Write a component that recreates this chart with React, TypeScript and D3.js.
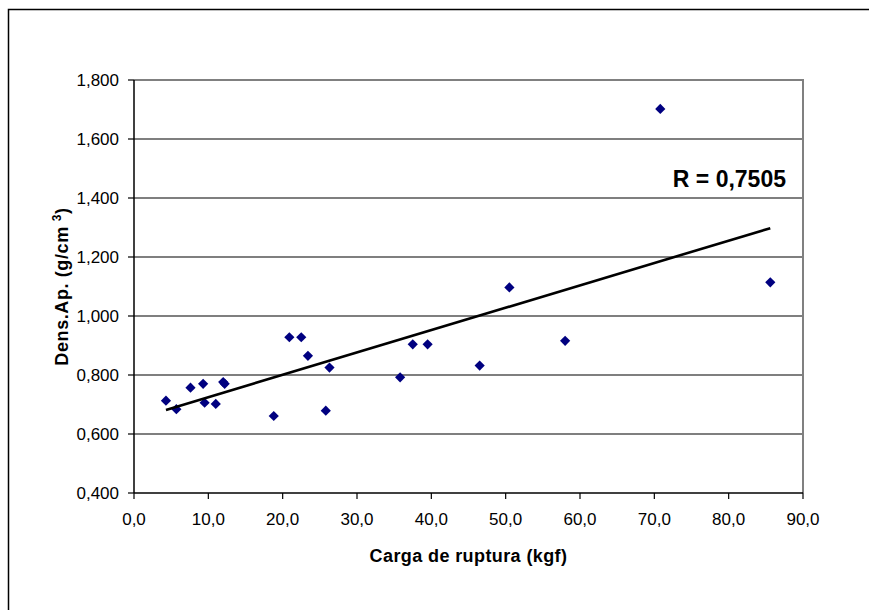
import React from "react";
import * as d3 from "d3";

// Carga de ruptura (kgf)
const cargaRuptura = [
  4.3, 5.7, 7.6, 9.3, 9.5, 11.0, 12.0, 12.2, 18.8, 20.9, 22.5, 23.4, 25.8, 26.3,
  35.8, 37.5, 39.5, 46.5, 50.5, 58.0, 70.8, 85.6,
];
// Dens.Ap. (g/cm3)
const densAp = [
  0.713, 0.684, 0.757, 0.77, 0.706, 0.702, 0.776, 0.77, 0.661, 0.928, 0.928, 0.865,
  0.679, 0.825, 0.792, 0.904, 0.904, 0.832, 1.097, 0.916, 1.702, 1.114,
];

const xTicks = [0, 10, 20, 30, 40, 50, 60, 70, 80, 90];
const yTicks = [0.4, 0.6, 0.8, 1.0, 1.2, 1.4, 1.6, 1.8];

// linear trend
const trendSlope = 0.00758;
const trendIntercept = 0.649;
const rLabel = "R = 0,7505";

const width = 869;
const height = 610;
const marginLeft = 134;
const marginRight = 66;
const marginTop = 80;
const marginBottom = 117;

const font = "'Liberation Sans', Arial, sans-serif";

const fmtX = (v: number) => v.toFixed(1).replace(".", ",");
const fmtY = (v: number) => v.toFixed(3).replace(".", ",");

export default function App() {
  const x = d3.scaleLinear([0, 90], [marginLeft, width - marginRight]);
  const y = d3.scaleLinear([0.4, 1.8], [height - marginBottom, marginTop]);

  const diamond = d3.symbol(d3.symbolSquare, 52)();
  const xMin = d3.min(cargaRuptura) as number;
  const xMax = d3.max(cargaRuptura) as number;
  const trend = d3
    .line<number>()
    .x((d) => x(d))
    .y((d) => y(trendIntercept + trendSlope * d))([xMin, xMax]);

  const x0 = x(0);
  const x1 = x(90);
  const y0 = y(0.4);
  const y1 = y(1.8);

  return (
    <svg
      width={width}
      height={height}
      style={{ position: "absolute", left: 0, top: 0, background: "#fff" }}
      fontFamily={font}
    >
      {/* chart area border */}
      <rect x={8.5} y={9.5} width={870} height={620} fill="#fff" stroke="#000" strokeWidth={1.5} />

      {/* gridlines */}
      {yTicks
        .filter((t) => t > 0.4 && t < 1.8)
        .map((t) => (
          <line key={t} x1={x0} x2={x1} y1={y(t)} y2={y(t)} stroke="#000" strokeWidth={1.2} />
        ))}

      {/* plot area border (top / right) */}
      <path d={`M${x0},${y1}H${x1}V${y0}`} fill="none" stroke="#808080" strokeWidth={2} />

      {/* axes */}
      <line x1={x0} x2={x1} y1={y0} y2={y0} stroke="#000" strokeWidth={1.5} />
      <line x1={x0} x2={x0} y1={y1} y2={y0} stroke="#000" strokeWidth={1.5} />

      {yTicks.map((t) => (
        <g key={t}>
          <line x1={x0 - 6} x2={x0} y1={y(t)} y2={y(t)} stroke="#000" strokeWidth={1.2} />
          <text x={x0 - 15} y={y(t)} dy="0.36em" textAnchor="end" fontSize={17} fill="#000">
            {fmtY(t)}
          </text>
        </g>
      ))}
      {xTicks.map((t) => (
        <g key={t}>
          <line x1={x(t)} x2={x(t)} y1={y0} y2={y0 + 6} stroke="#000" strokeWidth={1.2} />
          <text x={x(t)} y={y0 + 32} textAnchor="middle" fontSize={17} fill="#000">
            {fmtX(t)}
          </text>
        </g>
      ))}

      {/* points */}
      {cargaRuptura.map((c, i) => (
        <path
          key={i}
          d={diamond as string}
          transform={`translate(${x(c)},${y(densAp[i])}) rotate(45)`}
          fill="#000080"
        />
      ))}

      {/* trend line */}
      <path d={trend as string} fill="none" stroke="#000" strokeWidth={2.6} />

      <text x={786} y={187} textAnchor="end" fontSize={23} fontWeight="bold" fill="#000">
        {rLabel}
      </text>

      {/* axis titles */}
      <text
        x={(x0 + x1) / 2}
        y={562}
        textAnchor="middle"
        fontSize={18}
        fontWeight="bold"
        letterSpacing={0.4}
        fill="#000"
      >
        Carga de ruptura (kgf)
      </text>
      <text
        transform={`translate(68,${(y0 + y1) / 2}) rotate(-90)`}
        textAnchor="middle"
        fontSize={18}
        fontWeight="bold"
        letterSpacing={0.6}
        fill="#000"
      >
        Dens.Ap. (g/cm
        <tspan dx={5} dy={-7} fontSize={12}>
          3
        </tspan>
        <tspan dy={7}>)</tspan>
      </text>
    </svg>
  );
}
